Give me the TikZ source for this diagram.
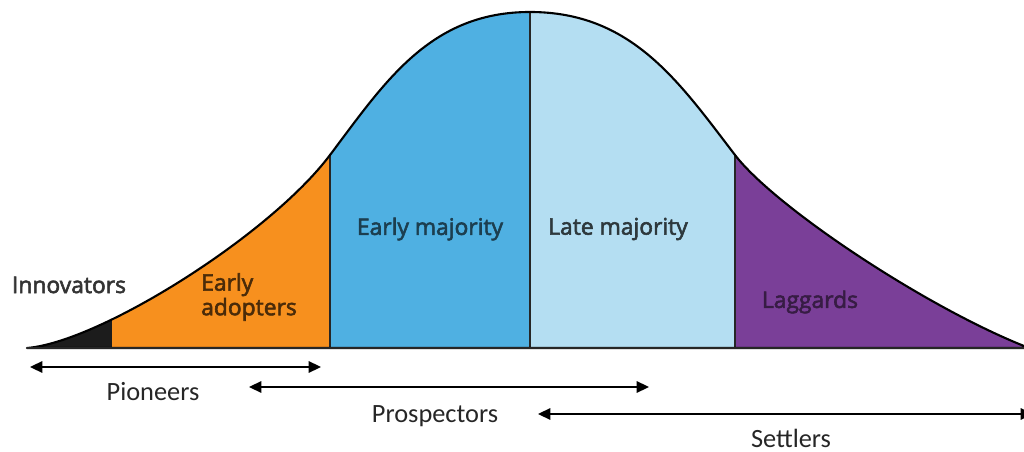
\documentclass[tikz,border=0pt]{standalone}
\usepackage{fontspec}
\setmainfont{Carlito}
\newfontfamily\partfont[FakeBold=2.5]{Open Sans}
\usetikzlibrary{arrows.meta}
\definecolor{innovblack}{HTML}{1C1C1C}
\definecolor{adoptorange}{HTML}{F7901E}
\definecolor{earlyblue}{HTML}{4FB0E2}
\definecolor{lateblue}{HTML}{B4DEF2}
\definecolor{lagpurple}{HTML}{7A3F98}
\tikzset{
  part/.style={font=\partfont\fontsize{13}{12.5}\selectfont},
  phase/.style={font=\fontsize{15}{17}\selectfont, text=black!85, anchor=base},
  span/.style={{Triangle[length=7pt,width=6.5pt]}-{Triangle[length=7pt,width=6.5pt]}, line width=1pt},
  edge/.style={line width=1.1pt, draw=black!85}
}

\begin{document}
\begin{tikzpicture}[x=0.02cm,y=-0.02cm]
\useasboundingbox (0,0) rectangle (1024,452);
\path[save path=\bellpath] (27,348) .. controls (100,342) and (270,235) .. (330,155)
  .. controls (385,82) and (430,12) .. (530,12)
  .. controls (632,12) and (679,82) .. (735,155)
  .. controls (775,207) and (924,306) .. (1024,346) -- (1024,348) -- cycle;
% the five groups under the curve
\begin{scope}
\clip[use path=\bellpath];
\fill[innovblack] (0,0) rectangle (112,348);
\fill[adoptorange] (112,0) rectangle (330,348);
\fill[earlyblue] (330,0) rectangle (530,348);
\fill[lateblue] (530,0) rectangle (735,348);
\fill[lagpurple] (735,0) rectangle (1024,348);
\foreach \b in {330,530,735} \draw[edge] (\b,348) -- (\b,0);
\end{scope}
\draw[line width=1.2pt, line join=round, use path=\bellpath];
\draw[edge] (27,348) -- (1024,348);

\node[part, text=black!80] (innov) at (69,285) {Innovators};
\node[part, text=adoptorange!30!black, align=left] (adopt) at (249,297) {Early\\adopters};
\node[part, text=earlyblue!35!black] (emaj) at (430,229) {Early majority};
\node[part, text=lateblue!25!black] (lmaj) at (618,229) {Late majority};
\node[part, text=lagpurple!45!black] (lag) at (810,302) {Laggards};

% who comes when
\coordinate (pio-a) at (30,367);
\coordinate (pio-b) at (321,367);
\coordinate (pro-a) at (249,387);
\coordinate (pro-b) at (649,387);
\coordinate (set-a) at (538,414);
\coordinate (set-b) at (1033,414);
\draw[span] (pio-a) -- (pio-b);
\draw[span] (pro-a) -- (pro-b);
\draw[span] (set-a) -- (set-b);
\node[phase] (pio) at (153,400) {Pioneers};
\node[phase] (pro) at (435,422) {Prospectors};
\node[phase] (set) at (791,447) {Settlers};
\end{tikzpicture}
\end{document}
